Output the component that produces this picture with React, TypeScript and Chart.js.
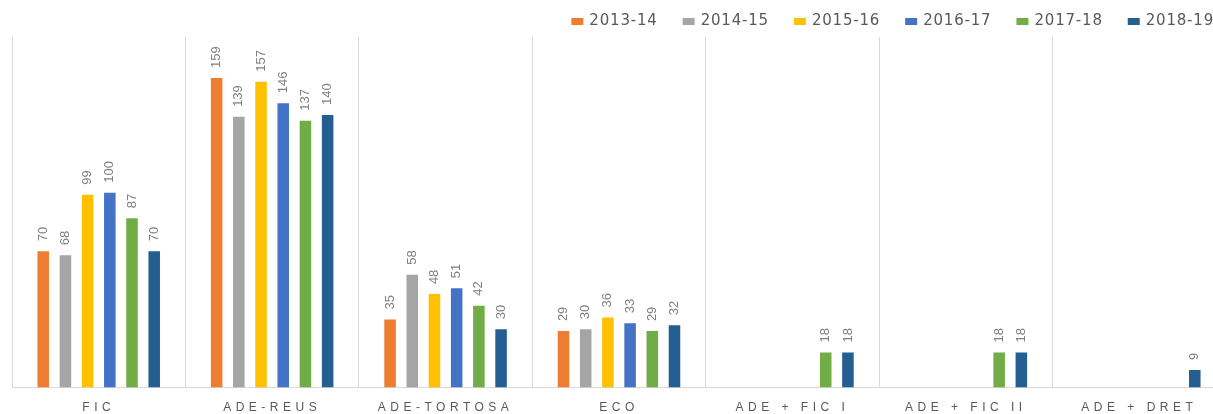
import React, { useEffect, useRef } from "react";
import { Chart, registerables } from "chart.js";

Chart.register(...registerables);

const categories = ["FIC", "ADE-REUS", "ADE-TORTOSA", "ECO", "ADE + FIC I", "ADE + FIC II", "ADE + DRET"];
const seriesLabels = ["2013-14", "2014-15", "2015-16", "2016-17", "2017-18", "2018-19"];
const s201314 = [70, 159, 35, 29, null, null, null];
const s201415 = [68, 139, 58, 30, null, null, null];
const s201516 = [99, 157, 48, 36, null, null, null];
const s201617 = [100, 146, 51, 33, null, null, null];
const s201718 = [87, 137, 42, 29, 18, 18, null];
const s201819 = [70, 140, 30, 32, 18, 18, 9];
const seriesColors = ["#ED7D31", "#A5A5A5", "#FFC000", "#4472C4", "#70AD47", "#255E91"];
const yMax = 180;

const seriesValues = [s201314, s201415, s201516, s201617, s201718, s201819];

const spacingPlugin = {
  id: "tickSpacing",
  beforeDraw(chart: any) {
    chart.ctx.letterSpacing = "4.5px";
  },
};

const dataLabelPlugin = {
  id: "dataLabels",
  afterDatasetsDraw(chart: any) {
    const ctx = chart.ctx;
    ctx.save();
    ctx.letterSpacing = "0px";
    ctx.font = '13px "Liberation Sans"';
    ctx.fillStyle = "#7F7F7F";
    ctx.textAlign = "left";
    ctx.textBaseline = "middle";
    chart.data.datasets.forEach((ds: any, di: number) => {
      const meta = chart.getDatasetMeta(di);
      meta.data.forEach((el: any, i: number) => {
        const v = ds.data[i];
        if (v === null || v === undefined) return;
        ctx.save();
        ctx.translate(el.x, el.y - 10);
        ctx.rotate(-Math.PI / 2);
        ctx.fillText(String(v), 0, 0);
        ctx.restore();
      });
    });
    ctx.restore();
  },
};

const legendPlugin = {
  id: "customLegend",
  afterDraw(chart: any) {
    const ctx = chart.ctx;
    ctx.save();
    ctx.font = '15px "DejaVu Sans"';
    ctx.letterSpacing = "0.8px";
    const boxW = 12;
    const boxH = 7;
    const gap = 6;
    const itemGap = 25;
    const items = chart.data.datasets.map((ds: any) => ({
      text: ds.label,
      color: ds.backgroundColor,
      w: ctx.measureText(ds.label).width,
    }));
    const total =
      items.reduce((s: number, it: any) => s + boxW + gap + it.w, 0) + itemGap * (items.length - 1);
    let x = chart.chartArea.right - 12 - total;
    const y = 21.5;
    ctx.textAlign = "left";
    ctx.textBaseline = "middle";
    items.forEach((it: any) => {
      ctx.fillStyle = it.color;
      ctx.fillRect(x, y - boxH / 2, boxW, boxH);
      ctx.fillStyle = "#595959";
      ctx.fillText(it.text, x + boxW + gap, y);
      x += boxW + gap + it.w + itemGap;
    });
    ctx.restore();
  },
};

export default function App() {
  const ref = useRef<HTMLCanvasElement>(null);
  useEffect(() => {
    if (!ref.current) return;
    const chart = new Chart(ref.current, {
      type: "bar",
      data: {
        labels: categories,
        datasets: seriesLabels.map((label, i) => ({
          label,
          data: seriesValues[i],
          backgroundColor: seriesColors[i],
          borderWidth: 0,
          categoryPercentage: 0.768,
          barPercentage: 0.52,
        })),
      },
      options: {
        animation: false,
        responsive: false,
        maintainAspectRatio: false,
        layout: { padding: { top: 37, left: 12, right: 14, bottom: 0 } },
        plugins: {
          legend: { display: false },
          tooltip: { enabled: false },
        },
        scales: {
          x: {
            grid: {
              display: true,
              color: "#D9D9D9",
              lineWidth: 1,
              drawTicks: false,
              offset: true,
            },
            border: { display: true, color: "#D9D9D9", width: 1 },
            ticks: {
              color: "#595959",
              font: { family: '"Liberation Sans"', size: 12 },
              padding: 13,
              autoSkip: false,
              maxRotation: 0,
              minRotation: 0,
            },
          },
          y: {
            display: false,
            min: 0,
            max: yMax,
          },
        },
      },
      plugins: [spacingPlugin, dataLabelPlugin, legendPlugin],
    });
    return () => chart.destroy();
  }, []);
  return (
    <div
      style={{
        position: "fixed",
        left: 0,
        top: 0,
        width: 1213,
        height: 414,
        overflow: "hidden",
        background: "#fff",
      }}
    >
      <canvas ref={ref} width={1240} height={428} style={{ display: "block" }} />
    </div>
  );
}
